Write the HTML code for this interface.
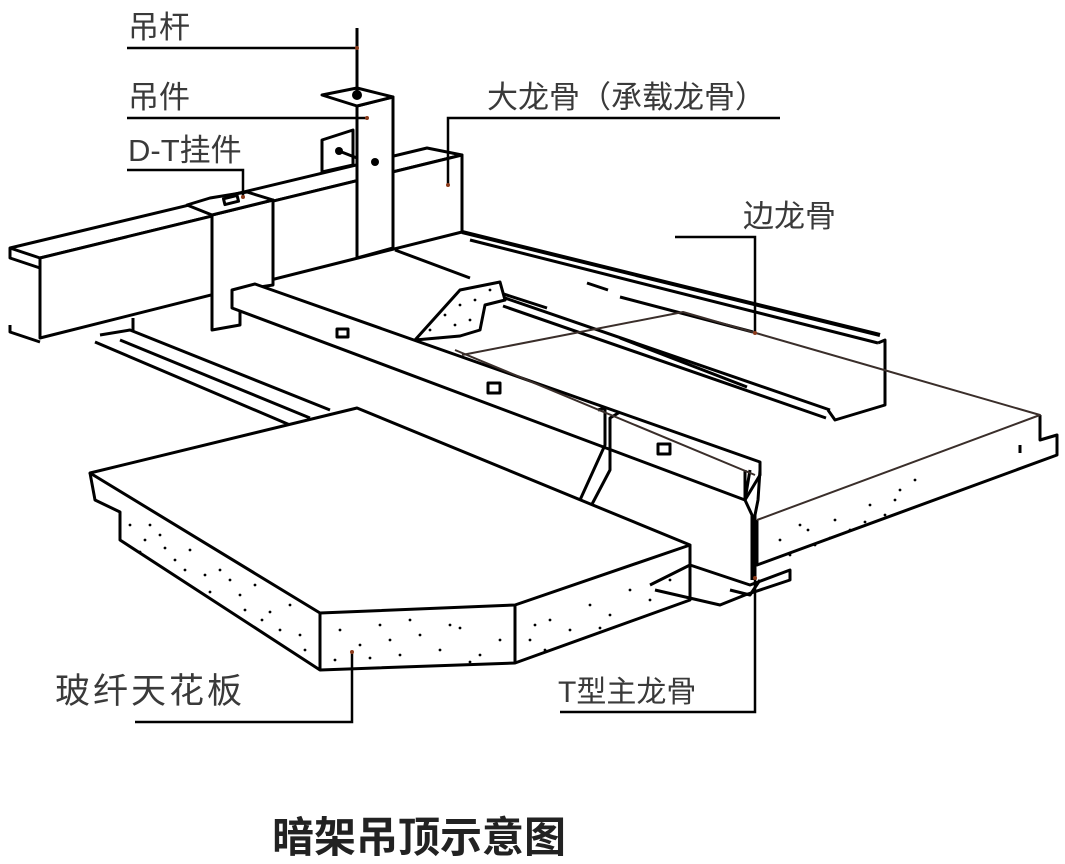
<!DOCTYPE html>
<html><head><meta charset="utf-8"><style>
html,body{margin:0;padding:0;background:#fff}
svg{display:block}
text{font-family:"Liberation Sans","Noto Sans CJK SC",sans-serif;fill:#3a3a3a}
</style></head><body>
<svg width="1065" height="864" viewBox="0 0 1065 864" xmlns="http://www.w3.org/2000/svg">
<g fill="none" stroke="#000" stroke-width="3" stroke-linejoin="round">
<!-- edge runner -->
<line x1="462" y1="232" x2="880" y2="335" stroke-width="4"/>
<line x1="470" y1="240" x2="878" y2="343"/>
<polyline points="878,343 885,340 885,405 835,420 828,410"/>
<!-- inner rails -->
<line x1="505" y1="298" x2="830" y2="410"/>
<line x1="503" y1="306" x2="826" y2="418"/>
<line x1="395" y1="250" x2="470" y2="278"/>
<line x1="485" y1="288" x2="547" y2="308"/>
<line x1="587" y1="283" x2="608" y2="290"/>
<line x1="620" y1="297" x2="753" y2="332"/>
<line x1="620" y1="338" x2="747" y2="387"/>
<!-- notch slab back -->
<polygon points="415,340 460,290 500,282 505,300 485,305 480,330 460,336" fill="#fff"/>
<!-- left rail -->
<polyline points="100,335 130,330 330,410"/>
<polyline points="95,342 290,425 330,415"/>
<polyline points="120,340 310,418"/>
<line x1="133" y1="318" x2="133" y2="332"/>
<!-- beam -->
<polygon points="10,248 427,148 462,155 40,258" fill="#fff"/>
<polygon points="40,258 462,155 462,232 358,258 40,338" fill="#fff"/>
<polyline points="10,248 10,258 40,268"/>
<polyline points="10,325 10,332 40,342"/>
<line x1="40" y1="258" x2="40" y2="338"/>
<!-- hanger -->
<polygon points="357,106 393,97 393,248 357,258" fill="#fff"/>
<polygon points="322,95 357,88 393,97 357,106" fill="#fff"/>
<polygon points="322,140 353,130 353,165 322,172" fill="#fff"/>
<line x1="357" y1="28" x2="357" y2="95"/>
<line x1="339" y1="151" x2="357" y2="158"/>
<!-- DT hanger -->
<polygon points="212,215 273,200 273,285 240,290 240,325 212,330" fill="#fff"/>
<polygon points="187,205 210,198 247,192 273,200 212,215" fill="#fff"/>
<rect x="224" y="197" width="14" height="6" transform="rotate(-14 231 200)"/>
<!-- main T runner -->
<polygon points="232,290 255,284 760,462 760,475 745,500 232,308" fill="#fff"/>
<line x1="232" y1="290" x2="232" y2="308"/>
<line x1="745" y1="470" x2="745" y2="500"/>
<polyline points="750,470 745,500 752,515 752,580"/>
<polyline points="760,470 758,500 755,515 755,580"/>
<rect x="337" y="329" width="11" height="8"/>
<rect x="488" y="383" width="12" height="10"/>
<rect x="658" y="444" width="12" height="10"/>
<!-- clip -->
<polyline points="598,410 605,408 605,445 580,500 590,508 610,470 610,418 620,412"/>
<!-- slab right -->
<polyline points="757,520 757,565 1057,455 1057,435 1040,440 1040,415"/>
<polyline points="1020,445 1020,453"/>
<!-- slab outline brown -->
<polyline points="462,355 683,312 1040,415 757,520" stroke="#3a2e2a" stroke-width="2"/>
<line x1="455" y1="350" x2="755" y2="475" stroke="#3a2e2a" stroke-width="2"/>
<!-- bottom runner -->
<polyline points="650,585 690,565 750,585 790,570 790,580 745,595 720,605 655,590"/>
<polyline points="730,590 750,595 760,580"/>
<!-- front slab -->
<polygon points="90,473 357,408 690,545 515,605 320,613" fill="#fff"/>
<polyline points="90,473 95,500 120,512 120,540 320,670 515,663 690,600 690,545"/>
<line x1="320" y1="613" x2="320" y2="670"/>
<line x1="515" y1="605" x2="515" y2="663"/>
</g>
<g fill="#000">
<circle cx="357" cy="95" r="5"/><circle cx="375" cy="162" r="4"/><circle cx="339" cy="151" r="4"/>
</g>
<g fill="#000">
<circle cx="130" cy="525" r="1.4"/><circle cx="145" cy="540" r="1.4"/><circle cx="160" cy="535" r="1.4"/><circle cx="175" cy="560" r="1.4"/><circle cx="190" cy="550" r="1.4"/><circle cx="205" cy="575" r="1.4"/><circle cx="220" cy="570" r="1.4"/><circle cx="240" cy="595" r="1.4"/><circle cx="255" cy="585" r="1.4"/><circle cx="270" cy="612" r="1.4"/><circle cx="290" cy="605" r="1.4"/><circle cx="300" cy="635" r="1.4"/><circle cx="140" cy="552" r="1.4"/><circle cx="210" cy="592" r="1.4"/><circle cx="280" cy="630" r="1.4"/><circle cx="150" cy="525" r="1.4"/><circle cx="185" cy="570" r="1.4"/><circle cx="230" cy="580" r="1.4"/><circle cx="262" cy="620" r="1.4"/><circle cx="305" cy="650" r="1.4"/><circle cx="165" cy="548" r="1.4"/><circle cx="245" cy="610" r="1.4"/>
<circle cx="340" cy="630" r="1.4"/><circle cx="360" cy="645" r="1.4"/><circle cx="380" cy="625" r="1.4"/><circle cx="400" cy="655" r="1.4"/><circle cx="420" cy="635" r="1.4"/><circle cx="440" cy="650" r="1.4"/><circle cx="460" cy="628" r="1.4"/><circle cx="480" cy="655" r="1.4"/><circle cx="500" cy="640" r="1.4"/><circle cx="335" cy="660" r="1.4"/><circle cx="410" cy="620" r="1.4"/><circle cx="470" cy="662" r="1.4"/><circle cx="390" cy="640" r="1.4"/><circle cx="450" cy="625" r="1.4"/><circle cx="370" cy="658" r="1.4"/>
<circle cx="530" cy="640" r="1.4"/><circle cx="550" cy="620" r="1.4"/><circle cx="570" cy="630" r="1.4"/><circle cx="590" cy="605" r="1.4"/><circle cx="610" cy="615" r="1.4"/><circle cx="630" cy="590" r="1.4"/><circle cx="650" cy="600" r="1.4"/><circle cx="670" cy="580" r="1.4"/><circle cx="545" cy="650" r="1.4"/><circle cx="600" cy="628" r="1.4"/><circle cx="535" cy="625" r="1.4"/>
<circle cx="780" cy="540" r="1.4"/><circle cx="800" cy="525" r="1.4"/><circle cx="815" cy="545" r="1.4"/><circle cx="835" cy="520" r="1.4"/><circle cx="850" cy="530" r="1.4"/><circle cx="870" cy="505" r="1.4"/><circle cx="885" cy="515" r="1.4"/><circle cx="900" cy="490" r="1.4"/><circle cx="915" cy="480" r="1.4"/><circle cx="790" cy="555" r="1.4"/><circle cx="830" cy="538" r="1.4"/><circle cx="865" cy="522" r="1.4"/><circle cx="808" cy="530" r="1.4"/><circle cx="895" cy="500" r="1.4"/>
<circle cx="430" cy="330" r="1.4"/><circle cx="445" cy="315" r="1.4"/><circle cx="460" cy="305" r="1.4"/><circle cx="470" cy="320" r="1.4"/><circle cx="490" cy="290" r="1.4"/><circle cx="438" cy="338" r="1.4"/><circle cx="455" cy="325" r="1.4"/><circle cx="475" cy="300" r="1.4"/>
</g>
<!-- leader lines -->
<g fill="none" stroke="#000" stroke-width="2.5">
<line x1="127" y1="48" x2="357" y2="48"/>
<line x1="127" y1="118" x2="367" y2="118"/>
<polyline points="127,170 243,170 243,197"/>
<polyline points="780,118 448,118 448,185"/>
<polyline points="675,237 755,237 755,333"/>
<polyline points="135,722 352,722 352,652"/>
<polyline points="560,712 755,712 755,578"/>
</g>
<g fill="#8b3a1a">
<circle cx="357" cy="48" r="2"/><circle cx="367" cy="118" r="2"/><circle cx="243" cy="197" r="2"/><circle cx="448" cy="185" r="2"/><circle cx="755" cy="333" r="2"/><circle cx="352" cy="652" r="2"/><circle cx="755" cy="578" r="2"/>
</g>
<text x="128" y="38" font-size="31">吊杆</text>
<text x="128" y="108" font-size="31">吊件</text>
<text x="128" y="161" font-size="31">D-T挂件</text>
<text x="487" y="108" font-size="31">大龙骨（承载龙骨）</text>
<text x="743" y="227" font-size="31">边龙骨</text>
<text x="55" y="703" font-size="35" style="letter-spacing:3px">玻纤天花板</text>
<text x="558" y="702" font-size="30">T型主龙骨</text>
<text x="272" y="852" font-size="42" font-weight="bold" style="fill:#222">暗架吊顶示意图</text>
</svg>
</body></html>
